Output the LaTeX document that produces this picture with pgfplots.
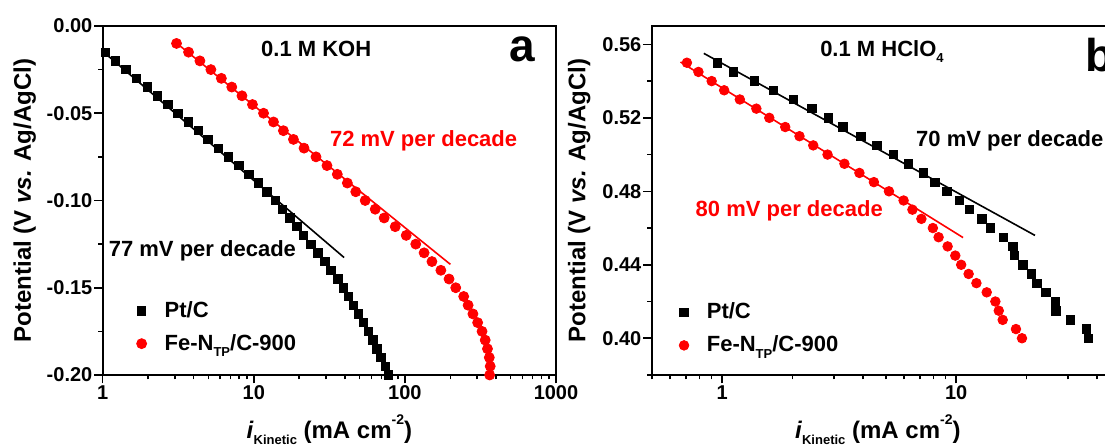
\documentclass[border=0pt]{standalone}
\usepackage{fontspec}
\setmainfont{Liberation Sans}
\usepackage{pgfplots}
\pgfplotsset{compat=1.18}
\definecolor{myred}{RGB}{255,0,0}
\newcommand{\mysub}[1]{\raisebox{-0.28em}{\fontsize{6.5}{7}\selectfont #1}}
\newcommand{\mysup}[1]{\raisebox{0.55em}{\fontsize{7}{8}\selectfont #1}}
\begin{document}
\begin{tikzpicture}
\pgfplotsset{
  common/.style={
    scale only axis, height=174.5pt,
    anchor=south west,
    axis line style={line width=1pt},
    every tick/.style={line width=0.8pt, black},
    major tick length=4.2pt, minor tick length=2.2pt,
    tick align=outside, tick pos=left,
    ticklabel style={font=\bfseries\fontsize{10}{12}\selectfont, inner sep=0.8pt},
    label style={font=\bfseries\fontsize{12}{14}\selectfont},
    clip=false,
    legend style={draw=none, fill=none, inner sep=0pt,
      font=\bfseries\fontsize{11}{13}\selectfont, row sep=3pt, column sep=7pt},
    legend cell align=left,
    xlabel={\textit{i}\mysub{Kinetic} (mA cm\mysup{-2})},
    ylabel={Potential (V \textit{vs.} Ag/AgCl)},
  }
}
% ---------------- panel a ----------------
\begin{semilogxaxis}[common,
  at={(51.35pt,36.5pt)}, width=226.65pt,
  xmin=1, xmax=1000, ymin=-0.2, ymax=0,
  xtick={1,10,100,1000}, xticklabels={1,10,100,1000},
  minor xtick={2,3,4,5,6,7,8,9,20,30,40,50,60,70,80,90,200,300,400,500,600,700,800,900},
  ytick={-0.2,-0.15,-0.1,-0.05,0},
  yticklabels={-0.20,-0.15,-0.10,-0.05,0.00},
  minor ytick={-0.175,-0.125,-0.075,-0.025},
  xlabel style={at={(axis description cs:0.5,-0.158)}, anchor=center},
  ylabel style={at={(axis description cs:-0.172,0.5)}, anchor=center},
  legend style={at={(axis description cs:0.074,0.137)}, anchor=west},
]
\addplot[only marks, mark=square*, mark size=2.1pt, black] coordinates {
(1.04,-0.015) (1.21,-0.020) (1.42,-0.025) (1.67,-0.030) (1.97,-0.035)
(2.30,-0.040) (2.70,-0.045) (3.15,-0.050) (3.68,-0.055) (4.28,-0.060)
(4.98,-0.065) (5.85,-0.070) (6.80,-0.075) (7.95,-0.080) (9.3,-0.085)
(10.7,-0.090) (12.2,-0.095) (13.9,-0.100) (15.5,-0.105) (17.3,-0.110)
(19.3,-0.115) (21.3,-0.120) (23.8,-0.125) (26.6,-0.130) (29.5,-0.135)
(32.3,-0.140) (36.0,-0.145) (39.3,-0.150) (42.3,-0.155) (45.7,-0.160)
(49.3,-0.165) (53.2,-0.170) (57.4,-0.175) (61.4,-0.180) (65.3,-0.185)
(69.4,-0.190) (74.1,-0.195) (77.9,-0.200)
};
\addlegendentry{Pt/C}
\addplot[only marks, mark=*, mark size=2.5pt, myred] coordinates {
(3.08,-0.010) (3.70,-0.015) (4.40,-0.020) (5.20,-0.025) (6.10,-0.030)
(7.15,-0.035) (8.35,-0.040) (9.80,-0.045) (11.6,-0.050) (13.5,-0.055)
(15.7,-0.060) (18.3,-0.065) (21.5,-0.070) (25.8,-0.075) (30.5,-0.080)
(35.7,-0.085) (41.6,-0.090) (47.3,-0.095) (54.6,-0.100) (63.6,-0.105)
(72.9,-0.110) (86.3,-0.115) (102,-0.120) (118,-0.125) (134,-0.130)
(151,-0.135) (173,-0.140) (196,-0.145) (217,-0.150) (245,-0.155)
(262,-0.160) (282,-0.165) (303,-0.170) (324,-0.175) (340,-0.180)
(352,-0.185) (362,-0.190) (367,-0.195) (364,-0.200)
};
\addlegendentry{Fe-N\mysub{TP}/C-900}
\addplot[black, line width=0.8pt, forget plot] coordinates {(1.0,-0.0145) (39.6,-0.1327)};
\addplot[myred, line width=0.8pt, forget plot] coordinates {(3.0,-0.009) (200,-0.1366)};
\node[anchor=base, font=\bfseries\fontsize{11}{13}\selectfont] at (rel axis cs:0.471,0.912) {0.1 M KOH};
\node[anchor=base, font=\bfseries\fontsize{23}{26}\selectfont] at (rel axis cs:0.925,0.898) {a};
\node[anchor=base, text=myred, font=\bfseries\fontsize{11}{13}\selectfont] at (rel axis cs:0.708,0.654) {72 mV per decade};
\node[anchor=base, font=\bfseries\fontsize{11}{13}\selectfont] at (rel axis cs:0.22,0.339) {77 mV per decade};
\end{semilogxaxis}
% ---------------- panel b ----------------
\begin{semilogxaxis}[common,
  at={(325.85pt,36.5pt)}, width=234.05pt,
  xmin=0.5, xmax=50, ymin=0.38, ymax=0.57,
  xtick={1,10}, xticklabels={1,10},
  minor xtick={0.5,0.6,0.7,0.8,0.9,2,3,4,5,6,7,8,9,20,30,40,50},
  ytick={0.40,0.44,0.48,0.52,0.56},
  yticklabels={0.40,0.44,0.48,0.52,0.56},
  minor ytick={0.38,0.42,0.46,0.50,0.54},
  xlabel style={at={(axis description cs:0.483,-0.158)}, anchor=center},
  ylabel style={at={(axis description cs:-0.155,0.5)}, anchor=center},
  legend style={at={(axis description cs:0.058,0.132)}, anchor=west},
]
\addplot[only marks, mark=square*, mark size=2.1pt, black] coordinates {
(0.952,0.550) (1.12,0.545) (1.37,0.540) (1.66,0.535) (2.01,0.530)
(2.42,0.525) (2.85,0.520) (3.28,0.515) (3.92,0.510) (4.58,0.505)
(5.38,0.500) (6.25,0.495) (7.25,0.490) (8.10,0.485) (9.12,0.480)
(10.3,0.475) (11.4,0.470) (12.9,0.465) (14.0,0.460) (15.9,0.455)
(17.5,0.450) (17.7,0.445) (19.3,0.440) (21.0,0.435) (22.1,0.430)
(24.2,0.425) (26.5,0.420) (26.7,0.415) (30.7,0.410) (36.1,0.405)
(36.7,0.400)
};
\addlegendentry{Pt/C}
\addplot[only marks, mark=*, mark size=2.4pt, myred] coordinates {
(0.707,0.550) (0.792,0.545) (0.902,0.540) (1.02,0.535) (1.19,0.530)
(1.40,0.525) (1.59,0.520) (1.86,0.515) (2.14,0.510) (2.45,0.505)
(2.82,0.500) (3.33,0.495) (3.86,0.490) (4.45,0.485) (5.16,0.480)
(5.96,0.475) (6.50,0.470) (7.10,0.465) (7.95,0.460) (8.41,0.455)
(9.19,0.450) (9.91,0.445) (10.5,0.440) (11.3,0.435) (12.2,0.430)
(13.5,0.425) (14.7,0.420) (15.2,0.415) (15.8,0.410) (18.0,0.405)
(19.1,0.400)
};
\addlegendentry{Fe-N\mysub{TP}/C-900}
\addplot[black, line width=0.8pt, forget plot] coordinates {(0.835,0.5551) (21.7,0.456)};
\addplot[myred, line width=0.8pt, forget plot] coordinates {(0.664,0.5504) (10.7,0.4548)};
\node[anchor=base west, font=\bfseries\fontsize{11}{13}\selectfont] at (rel axis cs:0.345,0.912) {0.1 M HClO\mysub{4}};
\node[anchor=base west, font=\bfseries\fontsize{23}{26}\selectfont] at (rel axis cs:0.911,0.869) {b};
\node[anchor=base west, font=\bfseries\fontsize{11}{13}\selectfont] at (rel axis cs:0.55,0.654) {70 mV per decade};
\node[anchor=base west, text=myred, font=\bfseries\fontsize{11}{13}\selectfont] at (rel axis cs:0.079,0.454) {80 mV per decade};
\end{semilogxaxis}
\pgfresetboundingbox
\useasboundingbox (0,0) rectangle (552.5pt,224pt);
\end{tikzpicture}
\end{document}
